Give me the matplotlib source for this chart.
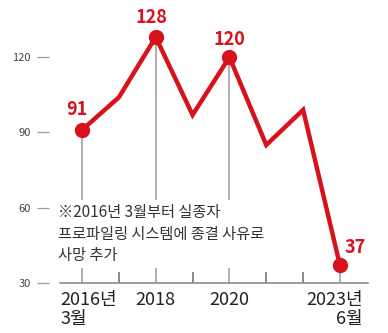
import matplotlib
matplotlib.use('Agg')
import matplotlib.pyplot as plt

plt.rcParams['font.family'] = ['Noto Sans CJK KR', 'DejaVu Sans']

years = [2016, 2017, 2018, 2019, 2020, 2021, 2022, 2023]
values = [91, 104, 128, 97, 120, 85, 99, 37]
marked_years = [2016, 2018, 2020, 2023]
marked_values = [91, 128, 120, 37]
label_offsets = [(-5, 20), (-4, 20), (0, 18), (15, 18)]  # pixels
xtick_years = [2016, 2018, 2020, 2023]
xtick_labels = ['2016년\n3월', '2018', '2020', '2023년\n6월']
minor_years = [2017, 2019, 2021, 2022]
yticks = [30, 60, 90, 120]
note = '※2016년 3월부터 실종자\n프로파일링 시스템에 종결 사유로\n사망 추가'

red = '#d7121d'

fig = plt.figure(figsize=(3.88, 3.33), dpi=100)
ax = fig.add_axes([60/388, 50/333, 308/388, 276/333])
ax.set_xlim(2015.403, 2023.76)
ax.set_ylim(30, 140)

for s in ['top', 'right']:
    ax.spines[s].set_visible(False)
ax.spines['left'].set_position(('outward', 8))
ax.spines['left'].set_visible(False)
ax.spines['bottom'].set_color('#8c8c8c')
ax.spines['bottom'].set_linewidth(1.2)

ax.set_yticks(yticks)
ax.set_yticklabels([str(v) for v in yticks])
ax.tick_params(axis='y', length=9, width=0.9, color='#999999', pad=4,
               labelsize=8, labelcolor='#444444')

ax.set_xticks(minor_years)
ax.set_xticklabels([])
ax.tick_params(axis='x', direction='in', length=8, width=1.2, color='#777777')

# vertical guide lines
ax.vlines(marked_years, 30, marked_values, color='#9a9a9a', lw=1.1, zorder=1)

ax.plot(years, values, color=red, lw=3.2, solid_joinstyle='miter', zorder=3)
ax.plot(marked_years, marked_values, 'o', ms=10, color=red, zorder=4)

for x, y, (dx, dy) in zip(marked_years, marked_values, label_offsets):
    ax.annotate(str(y), xy=(x, y), xytext=(dx * 0.72, dy * 0.72),
                textcoords='offset points', ha='center', va='center',
                fontsize=13, fontweight='bold', color=red, zorder=5)

# x labels
aligns = ['left', 'center', 'center', 'right']
shifts = [-22, 0, 0, 23]
for x, lab, ha, sh in zip(xtick_years, xtick_labels, aligns, shifts):
    ax.annotate(lab, xy=(x, 0), xycoords=ax.get_xaxis_transform(),
                xytext=(sh * 0.72, -6), textcoords='offset points',
                ha=ha, va='top', multialignment=ha, fontsize=13,
                color='#222222', linespacing=1.05, annotation_clip=False)

ax.text(2015.35, 61.3, note, ha='left', va='top', fontsize=11,
        color='#333333', linespacing=1.32, zorder=2,
        bbox=dict(facecolor='white', edgecolor='none', pad=3))

fig.savefig('out.png', dpi=100)
